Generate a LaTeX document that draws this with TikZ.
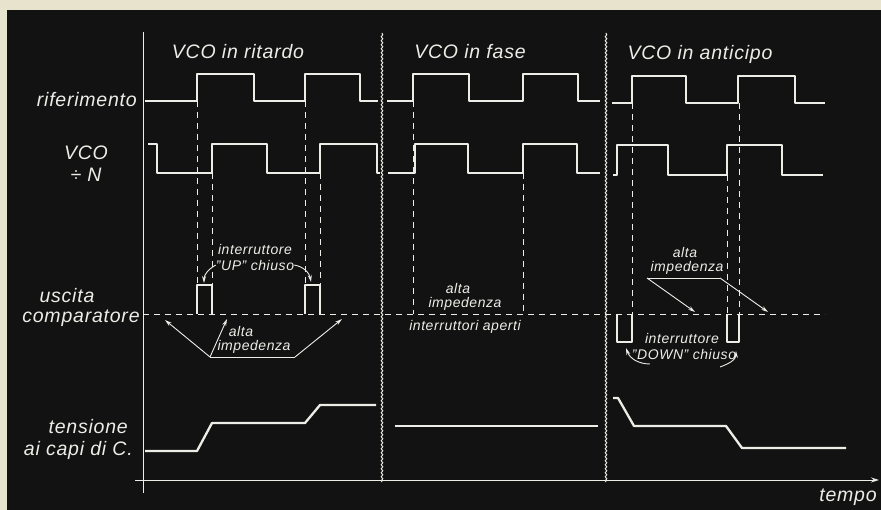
\documentclass[tikz,border=0pt]{standalone}
\usepackage{fontspec}
\setmainfont{Liberation Sans}[LetterSpace=4]
\usetikzlibrary{arrows.meta,decorations.pathmorphing}
\definecolor{ink}{rgb}{0.93,0.93,0.91}
\definecolor{board}{rgb}{0.07,0.07,0.07}
\definecolor{paper}{rgb}{0.91,0.89,0.80}
\begin{document}
\begin{tikzpicture}
[x=1pt,y=-1pt,every node/.style={text=ink,inner sep=0pt,font=\itshape\fontsize{19.5}{22}\selectfont},
 small/.style={font=\itshape\fontsize{14}{16}\selectfont},
 wave/.style={draw=ink,line width=2.3pt,line join=round},
 guide/.style={draw=ink,line width=0.8pt,dash pattern=on 6pt off 5pt},
 arr/.style={draw=ink,line width=0.9pt,-{Stealth[length=7pt,width=4pt]}},
 divider/.style={draw=ink,line width=1pt,decorate,decoration={snake,amplitude=0.8pt,segment length=4pt}}]
\useasboundingbox (0,0) rectangle (881,510);
\fill[paper] (0,0) rectangle (881,510);
\fill[board] (7,10) rectangle (881,510);
% axes
\coordinate (yb) at (143,493);
\coordinate (yt) at (143,32);
\coordinate (t0) at (135,480);
\coordinate (t1) at (879,480);
\draw [ink,line width=1pt] (yb) to (yt);
\draw [ink,line width=1pt,-{Stealth[length=8pt,width=5pt]}] (t0) to (t1);
\node (tempo) at (848,497) {tempo};
\coordinate (d1b) at (382,482);
\coordinate (d1t) at (382,33);
\coordinate (d2b) at (606,482);
\coordinate (d2t) at (606,33);
\draw [divider] (d1b) to (d1t);
\draw [divider] (d2b) to (d2t);
% titles
\node (ritardo) at (238,52) {VCO in ritardo};
\node (fase) at (470,52) {VCO in fase};
\node (anticipo) at (700,54) {VCO in anticipo};
% row labels
\node [anchor=east] (rif) at (137,100) {riferimento};
\node (vco) at (86,153) {VCO};
\node (divn) at (86,175) {÷ N};
\node (usc) at (67,296) {uscita};
\node (comp) at (81,318) {comparatore};
\node [anchor=east] (tens) at (128,427) {tensione};
\node [anchor=east] (capi) at (133,450) {ai capi di C.};
% riferimento
\draw [wave] (145,101) -- (197,101) -- (197,74) -- (254,74) -- (254,101) -- (305,101) -- (305,74) -- (360,74) -- (360,101) -- (378,101);
\draw [wave] (387,101) -- (413,101) -- (413,74) -- (469,74) -- (469,101) -- (523,101) -- (523,74) -- (578,74) -- (578,101) -- (600,101);
\draw [wave] (612,103) -- (632,103) -- (632,76) -- (686,76) -- (686,103) -- (738,103) -- (738,76) -- (795,76) -- (795,103) -- (825,103);
% VCO / N
\draw [wave] (148,144) -- (157,144) -- (157,173) -- (212,173) -- (212,144) -- (267,144) -- (267,173) -- (320,173) -- (320,144) -- (377,144) -- (377,173) -- (380,173);
\draw [wave] (388,173) -- (415,173) -- (415,144) -- (468,144) -- (468,173) -- (523,173) -- (523,144) -- (577,144) -- (577,173) -- (600,173);
\draw [wave] (613,175) -- (617,175) -- (617,145) -- (668,145) -- (668,175) -- (727,175) -- (727,145) -- (782,145) -- (782,175) -- (823,175);
% guides
\draw [guide] (197,101) -- (197,285);
\draw [guide] (212,173) -- (212,285);
\draw [guide] (305,101) -- (305,285);
\draw [guide] (320,173) -- (320,285);
\draw [guide] (413,101) -- (413,314);
\draw [guide] (523,173) -- (523,314);
\draw [guide] (632,103) -- (632,314);
\draw [guide] (727,175) -- (727,314);
\draw [guide] (739,103) -- (739,314);
\draw [guide] (143,314) -- (825,314);
% comparatore
\draw [wave,line width=2pt] (197,314) -- (197,285) -- (212,285) -- (212,314);
\draw [wave,line width=2pt] (305,314) -- (305,285) -- (320,285) -- (320,314);
\draw [wave,line width=2pt] (617,314) -- (617,342) -- (632,342) -- (632,314);
\draw [wave,line width=2pt] (727,314) -- (727,342) -- (739,342) -- (739,314);
% UP
\node [small] (upA) at (255,249) {interruttore};
\node [small] (upB) at (255,265) {''UP'' chiuso};
\coordinate (up1) at (204,283);
\coordinate (up2) at (311,282);
\draw [arr] (upB.west) to [out=210,in=90] (up1);
\draw [arr] (upB.east) to [out=-10,in=100] (up2);
\node [small] (hiA) at (241,331) {alta};
\node [small] (hiB) at (254,347) {impedenza};
\coordinate (hzL) at (210,357);
\coordinate (hzR) at (295,357);
\coordinate (hz1) at (165,320);
\coordinate (hz2) at (227,319);
\coordinate (hz3) at (342,319);
\draw [ink,line width=0.9pt] (hzL) to (hzR);
\draw [arr] (hzL) to (hz1);
\draw [arr] (hzL) to (hz2);
\draw [arr] (hzR) to (hz3);
% fase
\node [small] (faA) at (458,288) {alta};
\node [small] (faB) at (465,304) {impedenza};
\node [small] (faC) at (465,327) {interruttori aperti};
% DOWN
\node [small] (anA) at (685,252) {alta};
\node [small] (anB) at (687,268) {impedenza};
\coordinate (azL) at (647,278);
\coordinate (azR) at (720,278);
\coordinate (az1) at (695,312);
\coordinate (az2) at (768,312);
\draw [ink,line width=0.9pt] (azL) to (azR);
\draw [arr] (azL) to (az1);
\draw [arr] (azR) to (az2);
\node [small] (dnA) at (682,338) {interruttore};
\node [small] (dnB) at (684,354) {''DOWN'' chiuso};
\coordinate (dn0) at (650,364);
\coordinate (dn1) at (626,348);
\coordinate (dn3) at (720,367);
\coordinate (dn2) at (736,351);
\draw [arr] (dn0) to [out=180,in=-70] (dn1);
\draw [arr] (dn3) to [out=20,in=-90] (dn2);
% tensione
\draw [wave] (145,451) -- (197,451) -- (212,423) -- (305,423) -- (320,405) -- (376,405);
\draw [wave] (395,426) -- (598,426);
\draw [wave] (613,398) -- (618,398) -- (634,426) -- (726,426) -- (742,448) -- (846,448);
\end{tikzpicture}
\end{document}
